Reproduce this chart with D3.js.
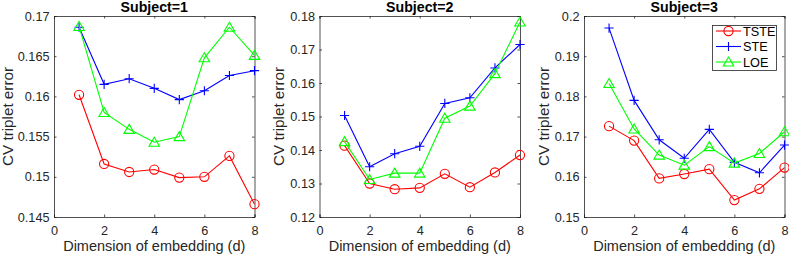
<!DOCTYPE html>
<html><head><meta charset="utf-8">
<script src="https://cdn.jsdelivr.net/npm/d3@7"></script>
<style>
html,body{margin:0;padding:0;background:#fff;}
svg{display:block;font-family:"Liberation Sans",Arial,Helvetica,sans-serif;}
</style></head>
<body><svg id="c" width="789" height="256"></svg>
<script>
const dims = [1,2,3,4,5,6,7,8];
const xTicks = [0,2,4,6,8];
const subjects = ["Subject=1","Subject=2","Subject=3"];
const seriesNames = ["TSTE","STE","LOE"];
const seriesColors = ["#ff0000","#0000ff","#00ff00"];
const seriesMarkers = ["circle","plus","triangle"];

// Subject 1
const s1_TSTE = [0.1602,0.1516,0.1506,0.1509,0.1499,0.1500,0.1526,0.1466];
const s1_STE  = [0.1686,0.1615,0.1622,0.1610,0.1596,0.1607,0.1626,0.1632];
const s1_LOE  = [0.1687,0.1580,0.1559,0.1543,0.1550,0.1648,0.1686,0.1651];
// Subject 2
const s2_TSTE = [0.1413,0.1300,0.1283,0.1287,0.1329,0.1289,0.1333,0.1385];
const s2_STE  = [0.1503,0.1350,0.1389,0.1411,0.1539,0.1556,0.1645,0.1715];
const s2_LOE  = [0.1425,0.1312,0.1331,0.1331,0.1495,0.1531,0.1628,0.1782];
// Subject 3
const s3_TSTE = [0.1726,0.1690,0.1596,0.1607,0.1619,0.1542,0.1570,0.1623];
const s3_STE  = [0.1970,0.1790,0.1692,0.1646,0.1718,0.1636,0.1610,0.1679];
const s3_LOE  = [0.1832,0.1719,0.1654,0.1629,0.1675,0.1634,0.1658,0.1712];

const yDomains = [[0.145,0.17],[0.12,0.18],[0.15,0.2]];
const yTicks1 = [0.145,0.15,0.155,0.16,0.165,0.17];
const yTicks2 = [0.12,0.13,0.14,0.15,0.16,0.17,0.18];
const yTicks3 = [0.15,0.16,0.17,0.18,0.19,0.2];

const panelData = [[s1_TSTE,s1_STE,s1_LOE],[s2_TSTE,s2_STE,s2_LOE],[s3_TSTE,s3_STE,s3_LOE]];
const panelTicks = [yTicks1,yTicks2,yTicks3];
const panelLeft = [54,319.5,584];
const yLabelX = [12.5,284,548.5];
const pw = 200.5, plotTop = 16, plotBottom = 217;
const axisColor = "#262626";

const svg = d3.select("#c");

function drawMarker(g, type, x, y, color){
  if(type==="circle"){
    g.append("circle").attr("cx",x).attr("cy",y).attr("r",4.6)
      .attr("fill","none").attr("stroke",color).attr("stroke-width",1.1);
  } else if(type==="plus"){
    g.append("path").attr("d",`M${x-4.6},${y}H${x+4.6}M${x},${y-4.6}V${y+4.6}`)
      .attr("stroke",color).attr("stroke-width",1.1).attr("fill","none");
  } else {
    const r=5;
    g.append("path").attr("d",`M${x},${y-r}L${x+r*1.05},${y+r*0.8}L${x-r*1.05},${y+r*0.8}Z`)
      .attr("stroke",color).attr("stroke-width",1.1).attr("fill","none");
  }
}

panelData.forEach((series,pi)=>{
  const L = panelLeft[pi];
  const x = d3.scaleLinear().domain([0,8]).range([L,L+pw]);
  const y = d3.scaleLinear().domain(yDomains[pi]).range([plotBottom,plotTop]);
  const g = svg.append("g");

  const xa = g.append("g").attr("transform",`translate(0,${plotBottom})`)
    .call(d3.axisBottom(x).tickValues(xTicks).tickSize(-2.5).tickPadding(0).tickFormat(d3.format("d")));
  xa.selectAll("text").attr("dy",null).attr("y",18);
  const xt = g.append("g").attr("transform",`translate(0,${plotTop})`)
    .call(d3.axisTop(x).tickValues(xTicks).tickSize(-2.5).tickFormat(""));
  const ya = g.append("g").attr("transform",`translate(${L},0)`)
    .call(d3.axisLeft(y).tickValues(panelTicks[pi]).tickSize(-2.5).tickPadding(4.5).tickFormat(d=>String(+d.toFixed(3))));
  const yr = g.append("g").attr("transform",`translate(${L+pw},0)`)
    .call(d3.axisRight(y).tickValues(panelTicks[pi]).tickSize(-2.5).tickFormat(""));
  [xa,xt,ya,yr].forEach(a=>{
    a.selectAll("path.domain").attr("stroke",axisColor).attr("stroke-width",0.8);
    a.selectAll("line").attr("stroke",axisColor).attr("stroke-width",0.8);
    a.selectAll("text").attr("fill",axisColor).style("font-size","12.7px").style("font-family","'Liberation Sans',Arial,sans-serif");
  });

  series.forEach((vals,si)=>{
    const line = d3.line().x((d,i)=>x(dims[i])).y(d=>y(d));
    g.append("path").datum(vals).attr("d",line).attr("fill","none")
      .attr("stroke",seriesColors[si]).attr("stroke-width",1.1);
    vals.forEach((v,i)=>drawMarker(g,seriesMarkers[si],x(dims[i]),y(v),seriesColors[si]));
  });

  g.append("text").attr("x",L+pw/2).attr("y",11.5).attr("text-anchor","middle")
    .style("font-weight","bold").style("font-size","14.2px").attr("fill","#000").text(subjects[pi]);
  g.append("text").attr("x",L+pw/2).attr("y",251).attr("text-anchor","middle")
    .style("font-size","14.5px").attr("fill",axisColor).text("Dimension of embedding (d)");
  g.append("text").attr("transform",`translate(${yLabelX[pi]},${(plotTop+plotBottom)/2}) rotate(-90) scale(1.05,1)`)
    .attr("text-anchor","middle").style("font-size","14.5px").attr("fill",axisColor).text("CV triplet error");

  if(pi===2){
    const lg = g.append("g");
    lg.append("rect").attr("x",712.5).attr("y",25.5).attr("width",64).attr("height",45)
      .attr("fill","#fff").attr("stroke",axisColor).attr("stroke-width",0.8);
    const ly = [31,46.5,62];
    seriesNames.forEach((n,si)=>{
      lg.append("line").attr("x1",716).attr("x2",741).attr("y1",ly[si]).attr("y2",ly[si])
        .attr("stroke",seriesColors[si]).attr("stroke-width",1.1);
      drawMarker(lg,seriesMarkers[si],728.5,ly[si],seriesColors[si]);
      lg.append("text").attr("x",743).attr("y",ly[si]+4.5).style("font-size","12.7px")
        .attr("fill","#000").text(n);
    });
  }
});
</script></body></html>
